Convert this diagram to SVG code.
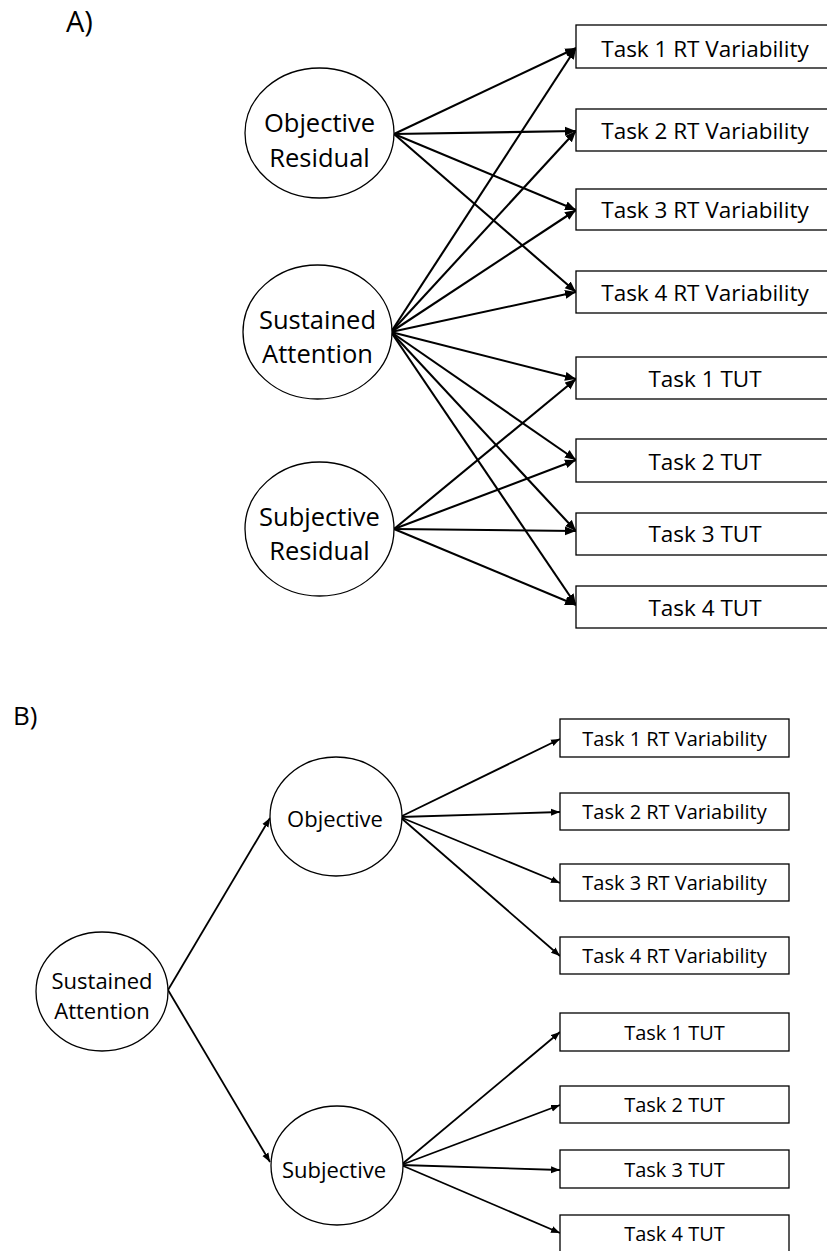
<svg xmlns="http://www.w3.org/2000/svg" width="827" height="1251" viewBox="0 0 827 1251">
  <defs>
    <style>
      text { font-family: "Open Sans", "Liberation Sans", sans-serif; fill: #000; text-anchor: middle; }
      .panel { font-size: 29px; text-anchor: start; }
      .latent { fill: #fff; stroke: #000; stroke-width: 1.3; }
      .obs { fill: #fff; stroke: #000; stroke-width: 1.3; }
      .la { font-size: 25.5px; }
      .ba { font-size: 22.5px; }
      .lb { font-size: 22px; }
      .bb { font-size: 20px; }
      .ea line { stroke: #000; stroke-width: 2.1; marker-end: url(#headA); }
      .eb line { stroke: #000; stroke-width: 1.8; marker-end: url(#headB); }
    </style>
    <marker id="headA" markerUnits="userSpaceOnUse" markerWidth="14" markerHeight="12" refX="11" refY="5" orient="auto">
      <path d="M0,0.5 L11,5 L0,9.5 Z" fill="#000"/>
    </marker>
    <marker id="headB" markerUnits="userSpaceOnUse" markerWidth="12" markerHeight="10" refX="9" refY="4" orient="auto">
      <path d="M0,0.5 L9,4 L0,7.5 Z" fill="#000"/>
    </marker>
  </defs>
  <rect width="827" height="1251" fill="#fff"/>

  <!-- Panel A -->
  <text class="panel" x="66" y="32">A)</text>

  <g id="connectors-a" class="ea">
    <line x1="394" y1="134" x2="576" y2="48"/>
    <line x1="394" y1="134" x2="576" y2="131"/>
    <line x1="394" y1="134" x2="576" y2="210"/>
    <line x1="394" y1="134" x2="576" y2="292"/>
    <line x1="391" y1="332" x2="576" y2="48"/>
    <line x1="391" y1="332" x2="576" y2="131"/>
    <line x1="391" y1="332" x2="576" y2="210"/>
    <line x1="391" y1="332" x2="576" y2="292"/>
    <line x1="391" y1="332" x2="576" y2="379"/>
    <line x1="391" y1="332" x2="576" y2="460"/>
    <line x1="391" y1="332" x2="576" y2="531"/>
    <line x1="391" y1="332" x2="576" y2="605"/>
    <line x1="394" y1="529" x2="576" y2="379"/>
    <line x1="394" y1="529" x2="576" y2="460"/>
    <line x1="394" y1="529" x2="576" y2="531"/>
    <line x1="394" y1="529" x2="576" y2="605"/>
  </g>

  <g id="a-objective-residual">
    <ellipse class="latent" cx="319.5" cy="133" rx="74.5" ry="65"/>
    <text class="la" x="319.5" y="132">Objective</text>
    <text class="la" x="319.5" y="167">Residual</text>
  </g>
  <g id="a-sustained-attention">
    <ellipse class="latent" cx="317.5" cy="332" rx="74.5" ry="67"/>
    <text class="la" x="317.5" y="329">Sustained</text>
    <text class="la" x="317.5" y="363">Attention</text>
  </g>
  <g id="a-subjective-residual">
    <ellipse class="latent" cx="319.5" cy="529" rx="74.5" ry="67"/>
    <text class="la" x="319.5" y="526">Subjective</text>
    <text class="la" x="319.5" y="560">Residual</text>
  </g>

  <g id="a-task1-rt">
    <rect class="obs" x="576" y="25" width="258" height="43"/>
    <text class="ba" x="705" y="57">Task 1 RT Variability</text>
  </g>
  <g id="a-task2-rt">
    <rect class="obs" x="576" y="109" width="258" height="42"/>
    <text class="ba" x="705" y="139">Task 2 RT Variability</text>
  </g>
  <g id="a-task3-rt">
    <rect class="obs" x="576" y="189" width="258" height="41"/>
    <text class="ba" x="705" y="218">Task 3 RT Variability</text>
  </g>
  <g id="a-task4-rt">
    <rect class="obs" x="576" y="271" width="258" height="42"/>
    <text class="ba" x="705" y="300.5">Task 4 RT Variability</text>
  </g>
  <g id="a-task1-tut">
    <rect class="obs" x="576" y="357" width="258" height="42"/>
    <text class="ba" x="705" y="387">Task 1 TUT</text>
  </g>
  <g id="a-task2-tut">
    <rect class="obs" x="576" y="439" width="258" height="43"/>
    <text class="ba" x="705" y="470">Task 2 TUT</text>
  </g>
  <g id="a-task3-tut">
    <rect class="obs" x="576" y="513" width="258" height="42"/>
    <text class="ba" x="705" y="542">Task 3 TUT</text>
  </g>
  <g id="a-task4-tut">
    <rect class="obs" x="576" y="586" width="258" height="42"/>
    <text class="ba" x="705" y="616">Task 4 TUT</text>
  </g>

  <!-- Panel B -->
  <text class="panel" x="13" y="725" style="font-size:26px">B)</text>

  <g id="connectors-b" class="eb">
    <line x1="168" y1="990" x2="270" y2="818"/>
    <line x1="168" y1="990" x2="270" y2="1162"/>
    <line x1="400" y1="817" x2="560" y2="739"/>
    <line x1="400" y1="817" x2="560" y2="812"/>
    <line x1="400" y1="817" x2="560" y2="883"/>
    <line x1="400" y1="817" x2="560" y2="956"/>
    <line x1="401" y1="1165" x2="560" y2="1032"/>
    <line x1="401" y1="1165" x2="560" y2="1105"/>
    <line x1="401" y1="1165" x2="560" y2="1170"/>
    <line x1="401" y1="1165" x2="560" y2="1233"/>
  </g>

  <g id="b-sustained-attention">
    <ellipse class="latent" cx="102" cy="991.5" rx="66" ry="59.5"/>
    <text class="lb" x="102" y="989">Sustained</text>
    <text class="lb" x="102" y="1019">Attention</text>
  </g>
  <g id="b-objective">
    <ellipse class="latent" cx="336" cy="816.5" rx="66" ry="59.5"/>
    <text class="lb" x="335" y="827">Objective</text>
  </g>
  <g id="b-subjective">
    <ellipse class="latent" cx="337" cy="1165.5" rx="66" ry="59.5"/>
    <text class="lb" x="334" y="1178">Subjective</text>
  </g>

  <g id="b-task1-rt">
    <rect class="obs" x="560" y="719" width="229" height="38"/>
    <text class="bb" x="674.5" y="746">Task 1 RT Variability</text>
  </g>
  <g id="b-task2-rt">
    <rect class="obs" x="560" y="793" width="229" height="37"/>
    <text class="bb" x="674.5" y="819">Task 2 RT Variability</text>
  </g>
  <g id="b-task3-rt">
    <rect class="obs" x="560" y="864" width="229" height="37"/>
    <text class="bb" x="674.5" y="890">Task 3 RT Variability</text>
  </g>
  <g id="b-task4-rt">
    <rect class="obs" x="560" y="937" width="229" height="37"/>
    <text class="bb" x="674.5" y="963">Task 4 RT Variability</text>
  </g>
  <g id="b-task1-tut">
    <rect class="obs" x="560" y="1013" width="229" height="38"/>
    <text class="bb" x="674.5" y="1040">Task 1 TUT</text>
  </g>
  <g id="b-task2-tut">
    <rect class="obs" x="560" y="1086" width="229" height="37"/>
    <text class="bb" x="674.5" y="1112">Task 2 TUT</text>
  </g>
  <g id="b-task3-tut">
    <rect class="obs" x="560" y="1150" width="229" height="38"/>
    <text class="bb" x="674.5" y="1177">Task 3 TUT</text>
  </g>
  <g id="b-task4-tut">
    <rect class="obs" x="560" y="1215" width="229" height="37"/>
    <text class="bb" x="674.5" y="1241">Task 4 TUT</text>
  </g>
</svg>
